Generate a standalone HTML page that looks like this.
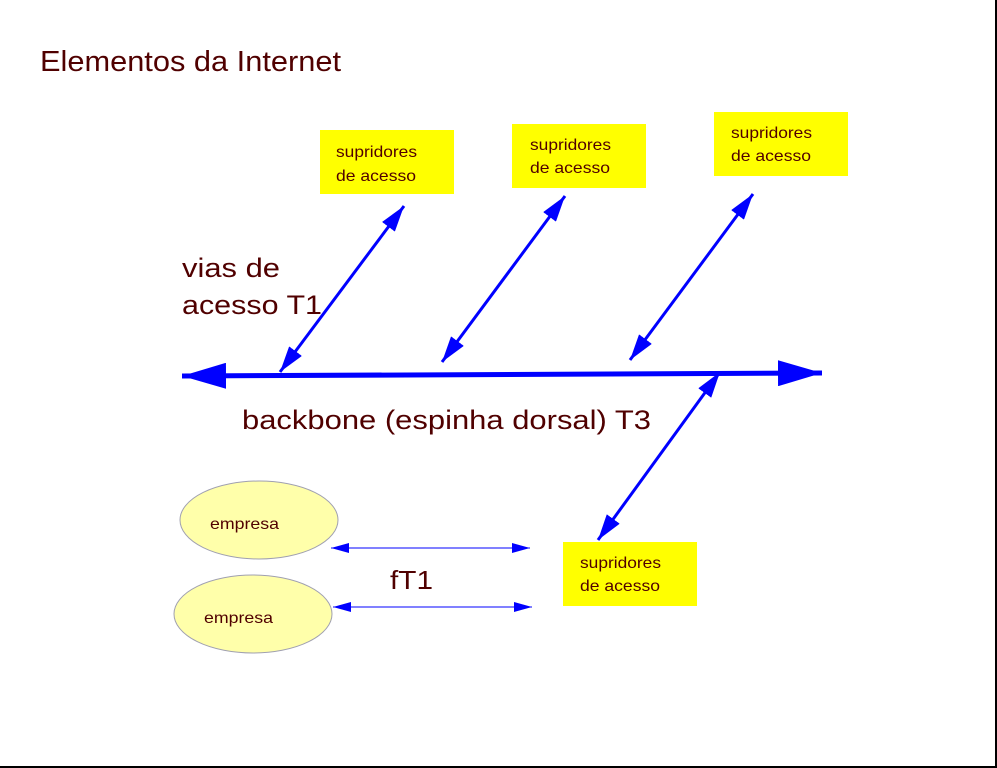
<!DOCTYPE html>
<html><head><style>html,body{margin:0;padding:0;background:#fff}</style></head>
<body>
<svg width="997" height="768" viewBox="0 0 997 768" xmlns="http://www.w3.org/2000/svg" style="display:block">
<defs>
<marker id="mid" viewBox="0 0 10 10" refX="10" refY="5" markerWidth="26" markerHeight="16" orient="auto-start-reverse" markerUnits="userSpaceOnUse" preserveAspectRatio="none">
<path d="M0,0 L10,5 L0,10 z" fill="#0000ff"/>
</marker>
<marker id="sm" viewBox="0 0 10 10" refX="10" refY="5" markerWidth="18" markerHeight="10" orient="auto-start-reverse" markerUnits="userSpaceOnUse" preserveAspectRatio="none">
<path d="M0,0 L10,5 L0,10 z" fill="#0000ff"/>
</marker>
<marker id="bb" viewBox="0 0 10 10" refX="10" refY="5" markerWidth="44" markerHeight="26" orient="auto-start-reverse" markerUnits="userSpaceOnUse" preserveAspectRatio="none">
<path d="M0,0 L10,5 L0,10 z" fill="#0000ff"/>
</marker>
</defs>
<g font-family="Liberation Sans, sans-serif" fill="#500000" lengthAdjust="spacingAndGlyphs">
<text x="40" y="71" font-size="29" textLength="301" lengthAdjust="spacingAndGlyphs">Elementos da Internet</text>
<text x="182" y="277" font-size="27" textLength="98" lengthAdjust="spacingAndGlyphs">vias de</text>
<text x="182" y="314" font-size="27" textLength="140" lengthAdjust="spacingAndGlyphs">acesso T1</text>
<text x="242" y="429" font-size="27" textLength="409" lengthAdjust="spacingAndGlyphs">backbone (espinha dorsal) T3</text>
<text x="390" y="589" font-size="26" textLength="43" lengthAdjust="spacingAndGlyphs">fT1</text>
</g>
<g fill="#ffff00">
<rect x="320" y="130" width="134" height="64"/>
<rect x="512" y="124" width="134" height="64"/>
<rect x="714" y="112" width="134" height="64"/>
<rect x="563" y="542" width="134" height="64"/>
</g>
<g font-family="Liberation Sans, sans-serif" font-size="16" fill="#500000">
<text x="336" y="157" textLength="81" lengthAdjust="spacingAndGlyphs">supridores</text><text x="336" y="181" textLength="80" lengthAdjust="spacingAndGlyphs">de acesso</text>
<text x="530" y="150" textLength="81" lengthAdjust="spacingAndGlyphs">supridores</text><text x="530" y="173" textLength="80" lengthAdjust="spacingAndGlyphs">de acesso</text>
<text x="731" y="138" textLength="81" lengthAdjust="spacingAndGlyphs">supridores</text><text x="731" y="161" textLength="80" lengthAdjust="spacingAndGlyphs">de acesso</text>
<text x="580" y="568" textLength="81" lengthAdjust="spacingAndGlyphs">supridores</text><text x="580" y="591" textLength="80" lengthAdjust="spacingAndGlyphs">de acesso</text>
</g>
<ellipse cx="259" cy="520" rx="79" ry="39" fill="#ffffaa" stroke="#a0a0b0" stroke-width="1"/>
<ellipse cx="253" cy="614" rx="79" ry="39" fill="#ffffaa" stroke="#a0a0b0" stroke-width="1"/>
<g font-family="Liberation Sans, sans-serif" font-size="16" fill="#500000">
<text x="210" y="529" textLength="69" lengthAdjust="spacingAndGlyphs">empresa</text>
<text x="204" y="623" textLength="69" lengthAdjust="spacingAndGlyphs">empresa</text>
</g>
<g stroke="#0000ff">
<line x1="182" y1="376" x2="822" y2="373" stroke-width="5" marker-start="url(#bb)" marker-end="url(#bb)"/>
<line x1="280" y1="372" x2="404" y2="206" stroke-width="3" marker-start="url(#mid)" marker-end="url(#mid)"/>
<line x1="442" y1="362" x2="565" y2="196" stroke-width="3" marker-start="url(#mid)" marker-end="url(#mid)"/>
<line x1="630" y1="360" x2="753" y2="194" stroke-width="3" marker-start="url(#mid)" marker-end="url(#mid)"/>
<line x1="598" y1="540" x2="720" y2="372" stroke-width="3" marker-start="url(#mid)" marker-end="url(#mid)"/>
<line x1="331" y1="548" x2="530" y2="548" stroke-width="1" marker-start="url(#sm)" marker-end="url(#sm)"/>
<line x1="333" y1="607" x2="532" y2="607" stroke-width="1" marker-start="url(#sm)" marker-end="url(#sm)"/>
</g>
<rect x="995" y="0" width="2" height="768" fill="#000"/>
<rect x="0" y="766" width="997" height="2" fill="#000"/>
</svg>
</body></html>
